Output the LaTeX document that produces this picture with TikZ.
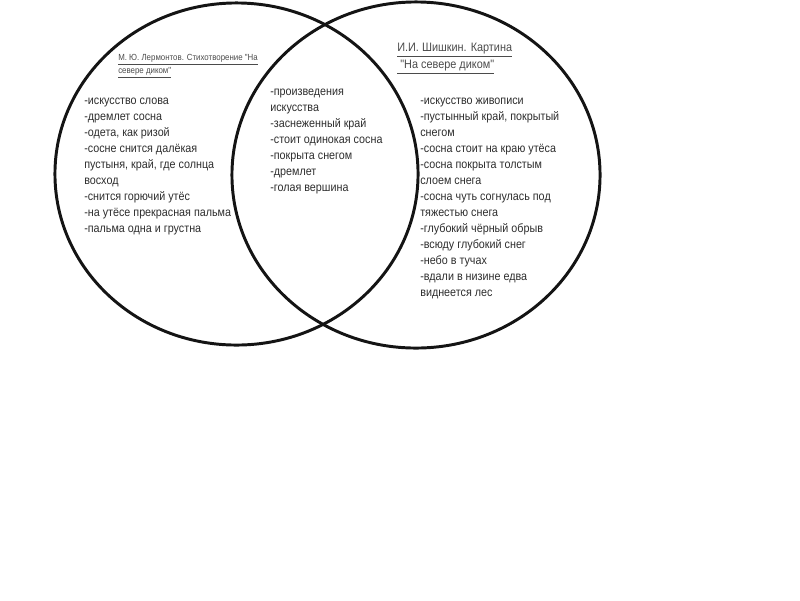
\documentclass[tikz,border=0pt]{standalone}
\usepackage{fontspec}
\setmainfont{Liberation Sans}
\newfontfamily\narrowfont[FakeStretch=0.89]{Liberation Sans}
\usepackage{tikz}
\usetikzlibrary{shapes.geometric, positioning}
\definecolor{mydark}{RGB}{20,20,20}
\definecolor{mytext}{RGB}{45,45,45}
\definecolor{myhead}{RGB}{75,75,75}
\tikzset{
  ring/.style={ellipse, draw=mydark, line width=2.1pt, inner sep=0pt},
  bodytext/.style={anchor=north west, inner sep=0pt, align=left,
    color=mytext, font=\narrowfont\fontsize{8.6}{11.4}\selectfont},
  headsmall/.style={anchor=north west, inner sep=0pt, align=left,
    color=myhead, font=\narrowfont\fontsize{6.3}{9.2}\selectfont},
  headbig/.style={anchor=north west, inner sep=0pt, align=left,
    color=myhead, font=\narrowfont\fontsize{8.7}{12.1}\selectfont}
}

\begin{document}
\begin{tikzpicture}[x=0.025cm, y=-0.025cm]
  \useasboundingbox (0,0) rectangle (800,600);

  % --- CIRCLES ---
  \node[ring, minimum width=9.075cm, minimum height=8.55cm] (poem) at (236.5,174) {};
  \node[ring, minimum width=9.2cm, minimum height=8.65cm] (painting) at (416,175) {};

  % --- LEFT: POEM ---
  \node[headsmall] (poem_title) at (118,54) {\underline{М. Ю. Лермонтов. Стихотворение "На}\\\underline{севере диком"}};
  \node[bodytext] (poem_list) at (84,97.5) {-искусство слова\\-дремлет сосна\\-одета, как ризой\\-сосне снится далёкая\\пустыня, край, где солнца\\восход\\-снится горючий утёс\\-на утёсе прекрасная пальма\\-пальма одна и грустна};

  % --- MIDDLE: COMMON ---
  \node[bodytext] (common_list) at (270,88.5) {-произведения\\искусства\\-заснеженный край\\-стоит одинокая сосна\\-покрыта снегом\\-дремлет\\-голая вершина};

  % --- RIGHT: PAINTING ---
  \node[headbig] (painting_title) at (397,43) {\underline{И.И. Шишкин. Картина}\\\underline{ "На севере диком"}};
  \node[bodytext] (painting_list) at (420,97.5) {-искусство живописи\\-пустынный край, покрытый\\снегом\\-сосна стоит на краю утёса\\-сосна покрыта толстым\\слоем снега\\-сосна чуть согнулась под\\тяжестью снега\\-глубокий чёрный обрыв\\-всюду глубокий снег\\-небо в тучах\\-вдали в низине едва\\виднеется лес};
\end{tikzpicture}
\end{document}
